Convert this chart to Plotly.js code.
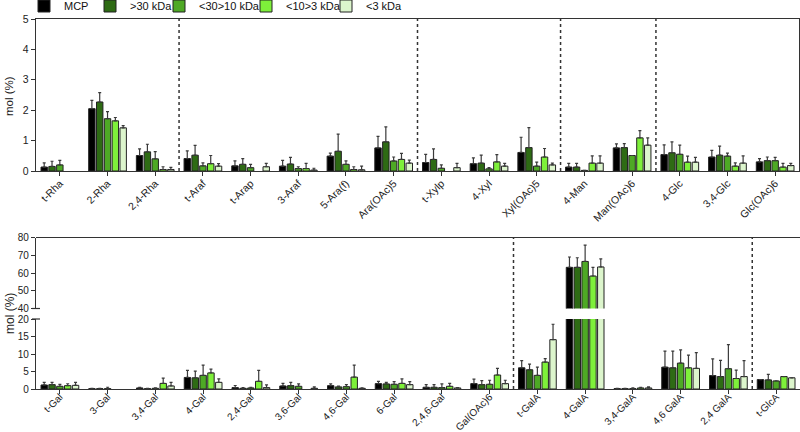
<!DOCTYPE html>
<html><head><meta charset="utf-8">
<script src="https://cdn.plot.ly/plotly-3.0.1.min.js"></script>
<style>html,body{margin:0;padding:0;background:#fff}#chart{width:800px;height:432px}</style>
</head><body><div id="chart"></div>
<script>
// ---------- DATA ----------
const seriesNames = ['MCP', '>30 kDa', '<30>10 kDa', '<10>3 kDa', '<3 kDa'];
const seriesColors = ['#000000', '#2e6b14', '#4ea925', '#7ef03a', '#dcf5cc'];

const topCategories = ['t-Rha','2-Rha','2,4-Rha','t-Araf','t-Arap','3-Araf','5-Ara(f)','Ara(OAc)5',
  't-Xylp','4-Xyl','Xyl(OAc)5','4-Man','Man(OAc)6','4-Glc','3,4-Glc','Glc(OAc)6'];
const topMCP      = [0.13,2.05,0.51,0.41,0.17,0.16,0.49,0.76,0.28,0.24,0.61,0.13,0.76,0.54,0.46,0.30];
const topMCPErr   = [0.14,0.27,0.22,0.25,0.16,0.19,0.10,0.38,0.27,0.19,0.50,0.12,0.13,0.32,0.22,0.11];
const top30       = [0.15,2.27,0.63,0.52,0.22,0.23,0.65,0.96,0.38,0.26,0.77,0.13,0.77,0.60,0.52,0.34];
const top30Err    = [0.17,0.31,0.25,0.32,0.19,0.22,0.56,0.49,0.35,0.26,0.66,0.12,0.13,0.36,0.30,0.12];
const top30_10    = [0.20,1.72,0.40,0.17,0.11,0.08,0.22,0.33,0.09,0.07,0.16,0.02,0.51,0.55,0.49,0.34];
const top30_10Err = [0.15,0.23,0.24,0.10,0.11,0.06,0.11,0.13,0.11,0.04,0.13,null,null,0.30,0.10,0.11];
const top10_3     = [null,1.65,0.05,0.24,null,0.08,0.05,0.38,null,0.30,0.46,0.26,1.09,0.29,0.16,0.13];
const top10_3Err  = [null,0.11,0.09,0.27,null,0.17,0.09,0.20,null,0.24,0.28,0.24,0.24,0.20,0.11,0.12];
const top3        = [null,1.42,0.05,0.16,0.14,0.03,0.04,0.26,0.11,0.16,0.20,0.26,0.85,0.29,0.26,0.18];
const top3Err     = [null,0.07,0.07,0.08,0.11,0.06,0.12,0.10,0.14,0.09,0.06,0.24,0.24,0.16,0.24,0.07];

const bottomCategories = ['t-Gal','3-Gal','3,4-Gal','4-Gal','2,4-Gal','3,6-Gal','4,6-Gal','6-Gal','2,4,6-Gal',
  'Gal(OAc)6','t-GalA','4-GalA','3,4-GalA','4,6 GalA','2,4 GalA','t-GlcA'];
const botMCP      = [1.15,0.10,0.30,3.3,0.40,0.87,0.96,1.54,0.50,1.54,6.06,63.2,0.10,6.25,3.85,2.70];
const botMCPErr   = [0.75,0.10,0.20,2.0,0.60,0.73,0.49,0.66,0.75,1.26,2.04,5.8,0.10,4.55,4.75,null];
const bot30       = [1.25,0.10,0.10,3.2,0.20,0.96,0.60,1.45,0.50,1.25,5.50,63.2,0.10,6.06,3.56,2.60];
const bot30Err    = [0.65,0.10,0.10,1.9,0.20,0.94,0.20,0.45,0.75,1.15,1.60,5.4,0.05,4.74,4.64,1.60];
const bot30_10    = [0.77,0.10,0.20,3.9,0.30,0.77,0.67,1.35,0.40,1.35,3.90,66.5,0.10,7.40,5.80,2.30];
const bot30_10Err = [0.58,0.40,0.10,2.9,0.20,0.68,0.58,0.75,1.05,1.15,2.35,9.2,0.20,3.80,6.90,null];
const bot10_3     = [0.96,null,1.60,4.6,2.20,null,3.40,1.60,0.77,4.00,7.70,58.3,0.30,6.06,3.00,3.56];
const bot10_3Err  = [0.54,null,1.50,1.1,3.10,null,3.40,1.30,0.83,1.90,0.95,4.9,0.20,3.64,2.40,null];
const bot3        = [1.05,null,0.87,1.9,0.40,0.20,0.20,1.25,0.30,1.54,14.1,63.4,0.30,5.90,3.56,3.20];
const bot3Err     = [0.85,null,1.00,1.0,0.75,0.40,0.10,0.85,0.10,0.96,4.40,4.6,0.30,4.50,4.54,null];

const topValues = [topMCP, top30, top30_10, top10_3, top3];
const topErrors = [topMCPErr, top30Err, top30_10Err, top10_3Err, top3Err];
const botValues = [botMCP, bot30, bot30_10, bot10_3, bot3];
const botErrors = [botMCPErr, bot30Err, bot30_10Err, bot10_3Err, bot3Err];

// ---------- LAYOUT HELPERS ----------
const W = 800, H = 432;
const py = p => (H - p) / H;           // pixel y -> paper fraction
const px = p => p / W;

const FONT = 'Liberation Sans, Arial, Helvetica, sans-serif';
const AX = '#333333';

function bar(x, y, err, i, xa, ya, legendId, show) {
  return {
    type: 'bar', x: x, y: y, name: seriesNames[i],
    xaxis: xa, yaxis: ya,
    marker: {color: seriesColors[i], line: {color: '#222', width: 1}},
    error_y: {type: 'data', symmetric: false, array: err, arrayminus: err.map(() => 0),
              color: '#3a3a3a', thickness: 1.2, width: 1.5},
    showlegend: show, legend: legendId, hoverinfo: 'skip'
  };
}

const legendIds = ['legend', 'legend2', 'legend3', 'legend4', 'legend5'];
const traces = [];
for (let i = 0; i < 5; i++) {
  traces.push(bar(topCategories, topValues[i], topErrors[i], i, 'x', 'y', legendIds[i], true));
}
for (let i = 0; i < 5; i++) {
  traces.push(bar(bottomCategories, botValues[i], botErrors[i], i, 'x2', 'y2', legendIds[i], false));
}
for (let i = 0; i < 5; i++) {
  traces.push(bar(bottomCategories, botValues[i], botErrors[i], i, 'x2', 'y3', legendIds[i], false));
}

const legendTextX = [63, 129, 198, 285, 365];
const legends = {};
legendIds.forEach((id, i) => {
  legends[id] = {
    x: px(legendTextX[i] - 39), xanchor: 'left', y: py(6), yanchor: 'middle',
    orientation: 'h', bgcolor: 'rgba(0,0,0,0)', borderwidth: 0,
    font: {family: FONT, size: 11, color: '#111'}, itemwidth: 30
  };
});

const xDom = [px(36), px(799)];
const topDom = [py(171), py(19)];
const lowDom = [py(389), py(319)];
const upDom = [py(308.5), py(237.5)];

const axisBase = {
  showline: true, linecolor: AX, linewidth: 1.2, ticks: 'outside', ticklen: 4,
  tickcolor: AX, tickwidth: 1, showgrid: false, zeroline: false, automargin: false,
  tickfont: {family: FONT, size: 10, color: '#222'}
};
const xTickFont = {family: FONT, size: 10.5, color: '#222'};

const divider = (xv, xref, y0, y1) => ({
  type: 'line', xref: xref, yref: 'paper', x0: xv, x1: xv, y0: y0, y1: y1,
  line: {color: '#333', width: 1.5, dash: 'dot'}
});

const layout = Object.assign({
  width: W, height: H,
  margin: {l: 0, r: 0, t: 0, b: 0, pad: 0, autoexpand: false},
  paper_bgcolor: '#fff', plot_bgcolor: '#fff',
  barmode: 'group', bargap: 0.18, bargroupgap: 0.18,
  font: {family: FONT, color: '#222'},
  xaxis: Object.assign({}, axisBase, {domain: xDom, anchor: 'y', type: 'category',
    tickangle: -45, mirror: true, tickfont: xTickFont, ticklabelstandoff: -3}),
  yaxis: Object.assign({}, axisBase, {domain: topDom, anchor: 'x', range: [0, 5], dtick: 1,
    mirror: true, tickfont: {family: FONT, size: 10.5, color: '#222'}}),
  xaxis2: Object.assign({}, axisBase, {domain: [px(36), 1], anchor: 'y2', type: 'category',
    tickangle: -45, tickfont: {family: FONT, size: 10, color: '#222'}, ticklabelstandoff: -7}),
  yaxis2: Object.assign({}, axisBase, {domain: lowDom, anchor: 'x2', range: [0, 20], dtick: 5}),
  yaxis3: Object.assign({}, axisBase, {domain: upDom, anchor: 'x2', range: [40, 80], dtick: 10}),
  shapes: [
    divider(2.5, 'x', topDom[0], topDom[1]),
    divider(7.5, 'x', topDom[0], topDom[1]),
    divider(10.5, 'x', topDom[0], topDom[1]),
    divider(12.5, 'x', topDom[0], topDom[1]),
    divider(9.5, 'x2', lowDom[0], upDom[1]),
    divider(14.5, 'x2', lowDom[0], upDom[1]),
    // top frame line of broken-axis panel
    {type: 'line', xref: 'paper', yref: 'paper', x0: px(36), x1: 1, y0: upDom[1], y1: upDom[1],
     line: {color: AX, width: 1.2}},
    // axis-break end marks
    {type: 'line', xref: 'paper', yref: 'paper', x0: px(32), x1: px(40), y0: upDom[0], y1: upDom[0],
     line: {color: AX, width: 1.2}},
    {type: 'line', xref: 'paper', yref: 'paper', x0: px(32), x1: px(40), y0: lowDom[1], y1: lowDom[1],
     line: {color: AX, width: 1.2}}
  ],
  annotations: [
    {text: 'mol (%)', xref: 'paper', yref: 'paper', x: px(9), y: py(96), textangle: -90,
     xanchor: 'center', yanchor: 'middle',
     showarrow: false, font: {family: FONT, size: 11.5, color: '#222'}},
    {text: 'mol (%)', xref: 'paper', yref: 'paper', x: px(10), y: py(314), textangle: -90,
     xanchor: 'center', yanchor: 'middle',
     showarrow: false, font: {family: FONT, size: 12, color: '#222'}}
  ]
}, legends);

Plotly.newPlot('chart', traces, layout, {staticPlot: true, displayModeBar: false});
</script>
</body></html>
